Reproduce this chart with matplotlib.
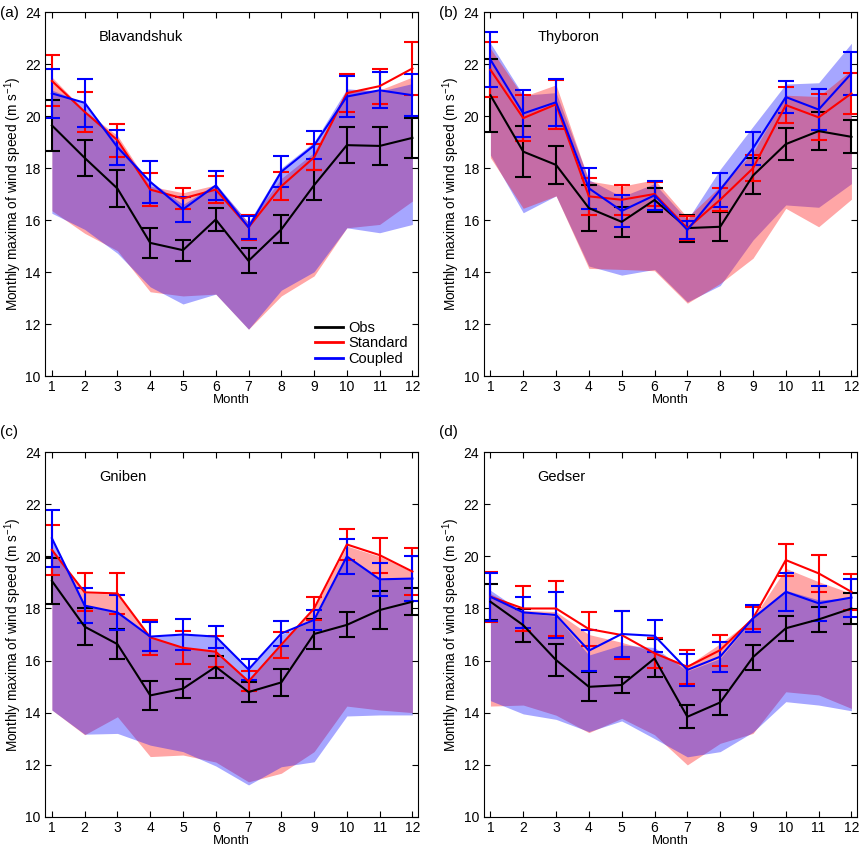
import matplotlib
matplotlib.use("Agg")
import matplotlib.pyplot as plt
from matplotlib.lines import Line2D

plt.rcParams["font.family"] = ["Liberation Sans", "DejaVu Sans"]
plt.rcParams["mathtext.default"] = "regular"

months = list(range(1, 13))
stations = ["Blavandshuk", "Thyboron", "Gniben", "Gedser"]
panel_tags = ["(a)", "(b)", "(c)", "(d)"]

# (a) Blavandshuk
a_obs = [19.64, 18.39, 17.21, 15.12, 14.84, 16.02, 14.43, 15.64, 17.34, 18.88, 18.85, 19.16]
a_obs_err = [0.98, 0.69, 0.72, 0.59, 0.40, 0.46, 0.48, 0.54, 0.58, 0.68, 0.72, 0.77]
a_std = [21.35, 20.16, 19.07, 17.17, 16.83, 17.17, 15.72, 17.30, 18.41, 20.88, 21.15, 21.83]
a_std_err = [0.98, 0.77, 0.63, 0.64, 0.42, 0.53, 0.49, 0.53, 0.50, 0.72, 0.67, 1.02]
a_cpl = [20.87, 20.51, 18.80, 17.47, 16.41, 17.33, 15.72, 17.86, 18.87, 20.75, 20.99, 20.80]
a_cpl_err = [0.93, 0.93, 0.67, 0.80, 0.48, 0.56, 0.45, 0.60, 0.54, 0.78, 0.70, 0.80]
a_std_hi = [21.50, 20.20, 19.25, 17.30, 17.05, 17.35, 15.90, 17.60, 18.60, 21.00, 21.00, 21.50]
a_std_lo = [16.36, 15.49, 14.82, 13.24, 13.08, 13.15, 11.80, 13.08, 13.85, 15.70, 15.83, 16.73]
a_cpl_hi = [21.00, 20.50, 18.95, 17.50, 16.60, 17.40, 15.90, 18.00, 19.00, 21.05, 20.95, 21.25]
a_cpl_lo = [16.26, 15.64, 14.72, 13.43, 12.77, 13.15, 11.80, 13.30, 14.01, 15.70, 15.51, 15.83]

# (b) Thyboron
b_obs = [20.80, 18.63, 18.12, 16.46, 15.93, 16.77, 15.69, 15.74, 17.71, 18.92, 19.42, 19.20]
b_obs_err = [1.40, 0.98, 0.72, 0.90, 0.58, 0.47, 0.52, 0.55, 0.69, 0.61, 0.74, 0.63]
b_std = [21.78, 19.92, 20.45, 16.91, 16.78, 17.00, 15.68, 16.78, 17.99, 20.42, 19.95, 20.87]
b_std_err = [1.05, 0.88, 0.95, 0.72, 0.58, 0.46, 0.46, 0.45, 0.50, 0.68, 0.88, 0.80]
b_cpl = [22.17, 20.10, 20.53, 17.22, 16.35, 16.95, 15.62, 17.16, 18.76, 20.73, 20.25, 21.64]
b_cpl_err = [1.07, 0.90, 0.90, 0.80, 0.61, 0.56, 0.35, 0.65, 0.64, 0.63, 0.79, 0.83]
b_std_hi = [22.60, 20.75, 21.20, 17.50, 17.30, 17.55, 16.10, 17.30, 18.60, 20.80, 20.75, 21.77]
b_std_lo = [18.40, 16.45, 16.93, 14.14, 14.10, 14.05, 12.80, 13.56, 14.53, 16.45, 15.74, 16.80]
b_cpl_hi = [22.80, 20.80, 20.90, 17.55, 16.90, 17.40, 16.00, 17.95, 19.60, 21.23, 21.28, 22.80]
b_cpl_lo = [18.50, 16.28, 16.93, 14.23, 13.88, 14.10, 12.85, 13.48, 15.23, 16.58, 16.49, 17.40]

# (c) Gniben
c_obs = [19.06, 17.30, 16.63, 14.66, 14.92, 15.76, 14.79, 15.16, 17.02, 17.37, 17.94, 18.26]
c_obs_err = [0.87, 0.70, 0.57, 0.55, 0.37, 0.42, 0.37, 0.53, 0.57, 0.48, 0.74, 0.52]
c_std = [20.25, 18.62, 18.58, 16.89, 16.49, 16.34, 15.20, 16.61, 18.00, 20.46, 20.05, 19.42]
c_std_err = [0.97, 0.73, 0.79, 0.67, 0.64, 0.60, 0.38, 0.50, 0.45, 0.58, 0.67, 0.90]
c_cpl = [20.70, 18.11, 17.85, 16.92, 17.00, 16.92, 15.66, 17.04, 17.56, 20.00, 19.12, 19.15]
c_cpl_err = [1.10, 0.67, 0.66, 0.57, 0.60, 0.42, 0.40, 0.48, 0.40, 0.66, 0.64, 0.87]
c_std_hi = [20.30, 18.60, 18.55, 16.90, 16.50, 16.35, 15.25, 16.60, 18.00, 20.40, 20.00, 19.40]
c_std_lo = [14.10, 13.15, 13.84, 12.31, 12.37, 12.10, 11.34, 11.67, 12.50, 14.25, 14.10, 14.00]
c_cpl_hi = [20.70, 18.10, 17.85, 16.90, 17.00, 16.90, 15.70, 17.00, 17.55, 20.00, 19.10, 19.15]
c_cpl_lo = [14.10, 13.17, 13.20, 12.75, 12.50, 11.95, 11.22, 11.92, 12.11, 13.87, 13.91, 13.91]

# (d) Gedser
d_obs = [18.26, 17.36, 16.02, 14.99, 15.06, 16.08, 13.84, 14.39, 16.13, 17.24, 17.58, 18.00]
d_obs_err = [0.69, 0.63, 0.61, 0.56, 0.31, 0.73, 0.44, 0.47, 0.48, 0.48, 0.48, 0.61]
d_std = [18.45, 18.00, 18.00, 17.21, 16.98, 16.28, 15.76, 16.40, 17.62, 19.86, 19.35, 18.64]
d_std_err = [0.96, 0.86, 1.04, 0.66, 0.92, 0.57, 0.65, 0.60, 0.42, 0.63, 0.72, 0.70]
d_cpl = [18.45, 17.85, 17.75, 16.38, 17.02, 16.95, 15.64, 16.15, 17.62, 18.64, 18.20, 18.42]
d_cpl_err = [0.93, 0.60, 0.90, 0.80, 0.88, 0.62, 0.60, 0.58, 0.52, 0.73, 0.68, 0.73]
d_std_hi = [18.57, 17.93, 17.88, 17.00, 16.70, 16.34, 15.80, 16.65, 17.62, 19.54, 19.03, 18.58]
d_std_lo = [14.25, 14.29, 13.90, 13.23, 13.78, 13.15, 11.99, 12.82, 13.20, 14.80, 14.68, 14.16]
d_cpl_hi = [18.70, 17.85, 17.70, 16.21, 16.60, 16.50, 15.60, 16.08, 17.60, 18.70, 18.33, 18.40]
d_cpl_lo = [14.46, 13.95, 13.74, 13.27, 13.68, 13.00, 12.30, 12.50, 13.25, 14.42, 14.29, 14.07]

panels = [
    (a_obs, a_obs_err, a_std, a_std_err, a_cpl, a_cpl_err, a_std_hi, a_std_lo, a_cpl_hi, a_cpl_lo),
    (b_obs, b_obs_err, b_std, b_std_err, b_cpl, b_cpl_err, b_std_hi, b_std_lo, b_cpl_hi, b_cpl_lo),
    (c_obs, c_obs_err, c_std, c_std_err, c_cpl, c_cpl_err, c_std_hi, c_std_lo, c_cpl_hi, c_cpl_lo),
    (d_obs, d_obs_err, d_std, d_std_err, d_cpl, d_cpl_err, d_std_hi, d_std_lo, d_cpl_hi, d_cpl_lo),
]

fig = plt.figure(figsize=(8.59, 8.48), dpi=100)
boxes = [
    [0.0524, 0.5566, 0.4342, 0.4292],
    [0.5629, 0.5566, 0.4348, 0.4292],
    [0.0524, 0.0369, 0.4342, 0.4297],
    [0.5629, 0.0369, 0.4348, 0.4297],
]

for i, (obs, obs_e, std, std_e, cpl, cpl_e, s_hi, s_lo, c_hi, c_lo) in enumerate(panels):
    ax = fig.add_axes(boxes[i])
    # shaded ranges; in (b) the red one sits on top
    if i == 1:
        ax.fill_between(months, c_lo, c_hi, color="blue", alpha=0.35, lw=0)
        ax.fill_between(months, s_lo, s_hi, color="red", alpha=0.35, lw=0)
    else:
        ax.fill_between(months, s_lo, s_hi, color="red", alpha=0.35, lw=0)
        ax.fill_between(months, c_lo, c_hi, color="blue", alpha=0.35, lw=0)

    kw = dict(capsize=5.5, elinewidth=1.5, capthick=1.5, lw=1.5)
    ax.errorbar(months, obs, yerr=obs_e, color="black", **kw)
    ax.errorbar(months, std, yerr=std_e, color="red", **kw)
    ax.errorbar(months, cpl, yerr=cpl_e, color="blue", **kw)

    ax.set_xlim(0.79, 12.17)
    ax.set_ylim(10, 24)
    ax.set_xticks(months)
    ax.set_yticks(range(10, 25, 2))
    ax.tick_params(direction="in", top=True, right=True, length=4, labelsize=10, pad=3)
    ax.set_xlabel("Month", fontsize=9.5, labelpad=0)
    ax.set_ylabel("Monthly maxima of wind speed (m s$^{-1}$)", fontsize=9.8, labelpad=1)
    ax.text(2.43, 23.05, stations[i], fontsize=10.5, va="center", ha="left")

    if i == 0:
        handles = [Line2D([], [], color=c, lw=2) for c in ("black", "red", "blue")]
        ax.legend(handles, ["Obs", "Standard", "Coupled"], loc="lower right",
                  frameon=False, fontsize=10.5, handlelength=1.9, handletextpad=0.35,
                  labelspacing=0.1, borderaxespad=0.3)

    tag_y = 0.985 if i < 2 else 0.49
    fig.text(boxes[i][0] - 0.052, tag_y, panel_tags[i], fontsize=11, va="center")

fig.savefig("out.png", dpi=100)
